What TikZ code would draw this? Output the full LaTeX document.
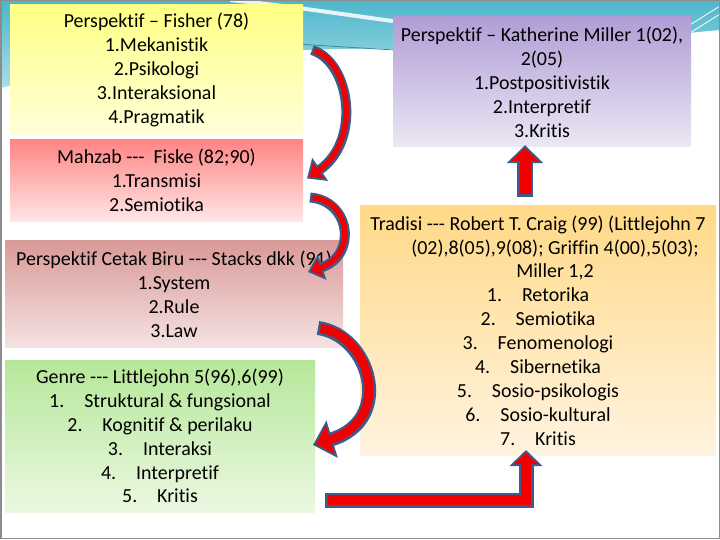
\documentclass[tikz,border=0pt]{standalone}
\usepackage{fontspec}
\setmainfont{Carlito}[Ligatures={NoCommon}]
\usetikzlibrary{arrows.meta,calc}
\definecolor{ablue}{HTML}{3E5C8A}
\definecolor{ared}{HTML}{F00000}
\definecolor{yelT}{HTML}{FFFF85}
\definecolor{yelB}{HTML}{FFFFD9}
\definecolor{redT}{HTML}{FF8585}
\definecolor{redB}{HTML}{FFE6E6}
\definecolor{rosT}{HTML}{D99A98}
\definecolor{rosB}{HTML}{F4E2E1}
\definecolor{grnT}{HTML}{B5E798}
\definecolor{grnB}{HTML}{EBF8E2}
\definecolor{purT}{HTML}{B09DD6}
\definecolor{purB}{HTML}{ECE8F4}
\definecolor{orgT}{HTML}{FFD987}
\definecolor{orgB}{HTML}{FFF3E0}
\definecolor{tealT}{HTML}{4DB6CB}
\definecolor{tealB}{HTML}{A9DEE7}
\definecolor{tealL}{HTML}{2E8FA0}
\definecolor{framec}{HTML}{8C8C8C}
\begin{document}
\begin{tikzpicture}[x=1bp,y=-1bp,
  box/.style={anchor=north west,inner sep=0pt,outer sep=0pt},
  txt/.style={align=center,inner sep=0pt,text=black,font=\fontsize{20}{24}\selectfont},
  fat/.style n args={6}{draw=ablue,line width=#1,-{Triangle[width=#3,length=#4]},
    postaction={draw=ared,line width=#2,shorten >=3bp,shorten <=2.5bp,-{Triangle[width=#5,length=#6]}}}]
\useasboundingbox (0,0) rectangle (720,540);
% background
\fill[white] (0,0) rectangle (720,540);
\shade[top color=tealT,bottom color=tealB] (0,0) -- (720,0) -- (720,30)
  .. controls (650,36) and (550,50) .. (400,49)
  .. controls (300,47) and (150,55) .. (0,88) -- cycle;
\draw[white,line width=4bp,opacity=.85] (230,0) .. controls (290,6) and (340,14) .. (400,22);
\draw[tealL,line width=.8bp] (295,44) .. controls (330,46) and (360,48) .. (395,50);
\draw[white,line width=.8bp] (685,28) -- (720,6);
\draw[white,line width=.8bp] (690,33) -- (720,14);
\draw[framec,line width=1.5bp] (0.75,0.75) rectangle (719.25,538.5);
% boxes
\node[box,minimum width=293bp,minimum height=130bp,top color=yelT,bottom color=yelB] (fisher) at (10,5) {};
\node[box,minimum width=293bp,minimum height=81bp,top color=redT,bottom color=redB] (fiske) at (10,140) {};
\node[box,minimum width=338bp,minimum height=106bp,top color=rosT,bottom color=rosB] (stacks) at (5,241) {};
\node[box,minimum width=310bp,minimum height=152bp,top color=grnT,bottom color=grnB] (genre) at (5,360) {};
\node[box,minimum width=298bp,minimum height=130bp,top color=purT,bottom color=purB] (miller) at (393,17) {};
\node[box,minimum width=356bp,minimum height=249bp,top color=orgT,bottom color=orgB] (tradisi) at (360,206) {};
% texts
\node[txt] (fishertxt) at (fisher.center) {Perspektif – Fisher (78)\\1.Mekanistik\\2.Psikologi\\3.Interaksional\\4.Pragmatik};
\node[txt] (fisketxt) at (fiske.center) {Mahzab -{}-{}-\ \ Fiske (82;90)\\1.Transmisi\\2.Semiotika};
\node[txt] (stackstxt) at (stacks.center) {Perspektif Cetak Biru -{}-{}- Stacks dkk (91)\\1.System\\2.Rule\\3.Law};
\node[txt] (genretxt) at (genre.center) {Genre -{}-{}- Littlejohn 5(96),6(99)\\1.\quad Struktural \& fungsional\\2.\quad Kognitif \& perilaku\\3.\quad Interaksi\\4.\quad Interpretif\\5.\quad Kritis};
\node[txt] (millertxt) at (miller.center) {Perspektif – Katherine Miller 1(02),\\2(05)\\1.Postpositivistik\\2.Interpretif\\3.Kritis};
\node[txt] (tradisitxt) at (tradisi.center) {Tradisi -{}-{}- Robert T. Craig (99) (Littlejohn 7\\\hspace*{34bp}(02),8(05),9(08); Griffin 4(00),5(03);\\\hspace*{34bp}Miller 1,2\\1.\quad Retorika\\2.\quad Semiotika\\3.\quad Fenomenologi\\4.\quad Sibernetika\\5.\quad Sosio-psikologis\\6.\quad Sosio-kultural\\7.\quad Kritis};
% connector end points
\coordinate (a0) at ($(fisher.east)+(9,-20)$);
\coordinate (a1) at ($(fiske.east)+(4,-2)$);
\coordinate (b0) at ($(fiske.east)+(7,17)$);
\coordinate (b1) at ($(stacks.north east)+(-35,31)$);
\coordinate (c0) at ($(stacks.south east)+(-25,-19)$);
\coordinate (c1) at ($(genre.east)+(-2,9)$);
\coordinate (d0) at ($(genre.south east)+(10,-12)$);
\coordinate (d1) at ($(tradisi.south)+(-12,-5)$);
\coordinate (e0) at ($(tradisi.north)+(-13,-9)$);
\coordinate (e1) at ($(e0 |- miller.south)+(0,-2)$);
% connectors
\draw[fat={10bp}{5.5bp}{27bp}{16bp}{19bp}{11bp}] (a0) .. controls +(38,12) and +(55,-38) .. (a1);
\draw[fat={10bp}{5.5bp}{26bp}{15bp}{18bp}{10bp}] (b0) .. controls +(40,3) and +(50,-17) .. (b1);
\draw[fat={14bp}{9bp}{38bp}{20bp}{29bp}{15bp}] (c0) .. controls +(52,7) and +(82,-25) .. (c1);
\draw[fat={15bp}{10bp}{32bp}{16bp}{24bp}{11bp}] (d0) -| (d1);
\draw[fat={16bp}{11bp}{35bp}{18bp}{27bp}{13bp}] (e0) -- (e1);
\end{tikzpicture}
\end{document}
